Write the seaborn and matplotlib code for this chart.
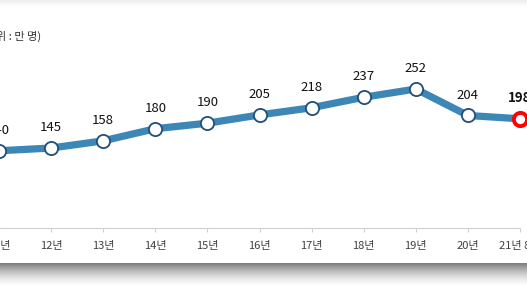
import numpy as np
import pandas as pd
import matplotlib
matplotlib.use("Agg")
import matplotlib.pyplot as plt
import seaborn as sns

years = ["11년", "12년", "13년", "14년", "15년", "16년", "17년", "18년", "19년", "20년", "21년 8월"]
values = [140, 145, 158, 180, 190, 205, 218, 237, 252, 204, 198]
unit_label = "(단위 : 만 명)"

sns.set_theme(style="white")
plt.rcParams['font.family'] = ['Noto Sans CJK KR', 'DejaVu Sans']

W, H = 527, 287
fig = plt.figure(figsize=(W / 100, H / 100), dpi=100)
fig.patch.set_facecolor("white")

# background shadows (top band and bottom drop shadow)
bg = fig.add_axes([0, 0, 1, 1], zorder=0)
bg.set_xlim(0, 1); bg.set_ylim(0, H); bg.axis("off")
bot = np.linspace(0, 1, 64)[:, None]
bot_col = 1 - 0.52 * (bot ** 1.6)
bg.imshow(np.repeat(bot_col, 2, axis=1), cmap="gray", vmin=0, vmax=1,
          extent=[0, 1, 0, H - 263], aspect="auto", origin="lower")
top = np.linspace(0, 1, 16)[:, None]
top_col = 1 - 0.07 * top
bg.imshow(np.repeat(top_col, 2, axis=1), cmap="gray", vmin=0, vmax=1,
          extent=[0, 1, H - 7, H], aspect="auto", origin="lower")

# main axes: x from pixel 0 to 520, y=0 at pixel 228
ax_left = -1 / W
ax_right = 520 / W
y0_px = 228
ymax = 300
px_per_unit = 0.5516
ax_h = ymax * px_per_unit
ax = fig.add_axes([ax_left, (H - y0_px) / H, ax_right - ax_left, ax_h / H], zorder=1)
ax.patch.set_alpha(0)

df = pd.DataFrame({"x": np.arange(len(years)), "v": values})
sns.lineplot(data=df, x="x", y="v", ax=ax, color="#3C87B6", linewidth=5.2,
             marker="o", markersize=9.5, markerfacecolor="white",
             markeredgecolor="#1F4E79", markeredgewidth=1.3, clip_on=False)
last = df.iloc[[-1]]
ax.plot(last["x"], last["v"], "o", markersize=9.5, markerfacecolor="white",
        markeredgecolor="#FF0000", markeredgewidth=2.8, clip_on=False, zorder=5)

for i, v in enumerate(values):
    last_pt = i == len(values) - 1
    ax.annotate(str(v), (i, v), xytext=(0, 10), textcoords="offset points",
                ha="center", va="bottom", fontsize=9.5,
                fontweight="bold" if last_pt else "normal",
                color="#111111", annotation_clip=False)

ax.set_xlim(0, len(years) - 1)
ax.set_ylim(0, ymax)
ax.set_xticks(range(len(years)))
ax.set_xticklabels(years, fontsize=8, color="#404040")
ax.set_yticks([])
ax.set_xlabel(""); ax.set_ylabel("")
for s in ["top", "right", "left"]:
    ax.spines[s].set_visible(False)
ax.spines["bottom"].set_color("#D0D0D0")
ax.spines["bottom"].set_linewidth(0.8)
ax.tick_params(axis="x", bottom=True, length=3, width=0.8, color="#D0D0D0", pad=6)

fig.text(41 / W, 1 - 36 / H, unit_label, ha="right", va="center", fontsize=8, color="#333333")

fig.savefig("out.png", dpi=100)
